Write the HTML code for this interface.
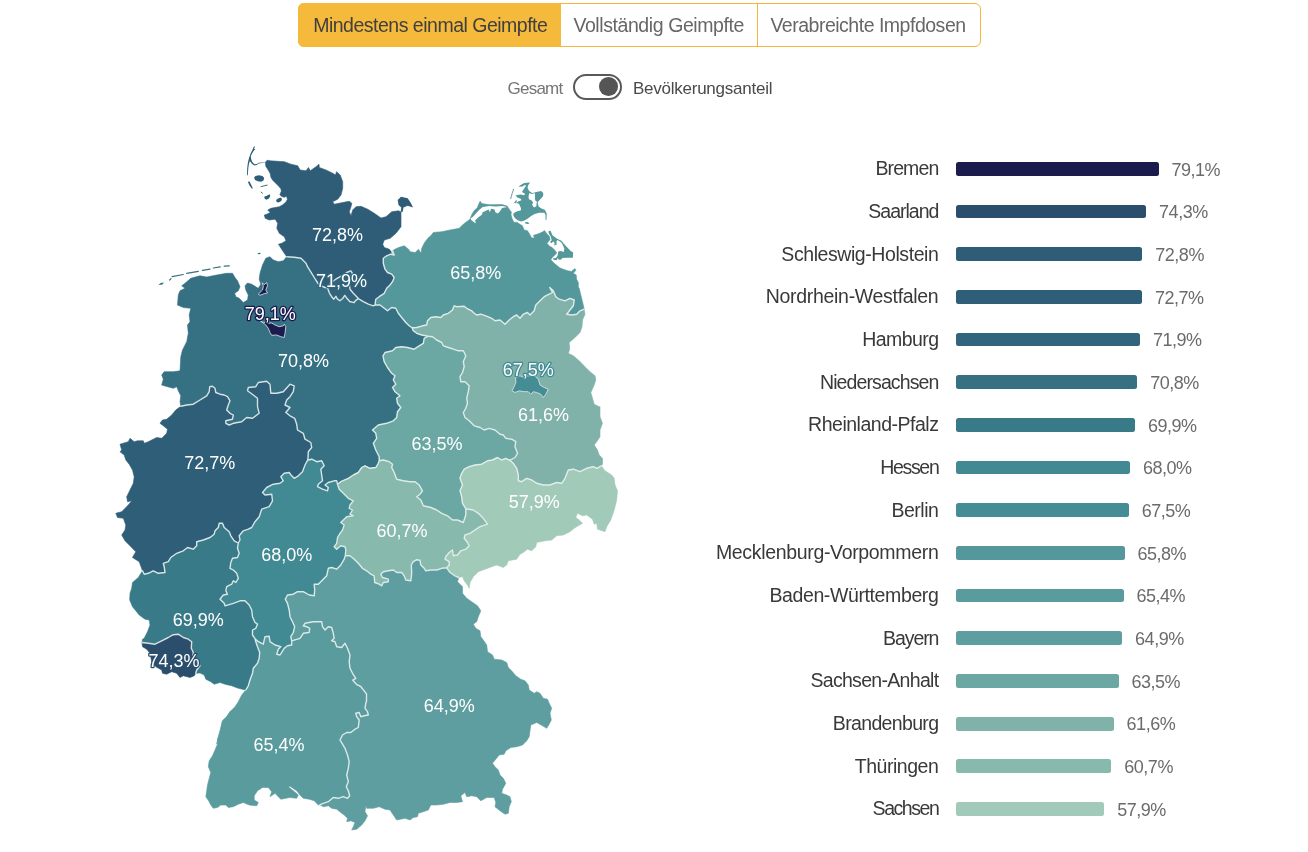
<!DOCTYPE html>
<html lang="de"><head><meta charset="utf-8"><title>Impfquoten nach Bundesland</title>
<style>
html,body{margin:0;padding:0;background:#fff}
body{width:1308px;height:852px;position:relative;overflow:hidden;font-family:"Liberation Sans",sans-serif;color:#3c3c3c}
.tabs{position:absolute;left:297.6px;top:2.7px;width:683.3px;height:44.1px;box-sizing:border-box;border:1px solid #f5b63a;border-radius:6px;background:#fff}
.tab{position:absolute;top:-1px;height:44.1px;box-sizing:border-box;font-size:19.5px;line-height:19.5px;color:#676767;white-space:nowrap}
.tab.active{background:#f5b93b;border-radius:6px 0 0 6px;color:#404040}
.tab span{position:absolute;top:13.10px}
.tog{position:absolute;left:573px;top:74.3px;width:48.6px;height:25.3px;box-sizing:border-box;border:2px solid #595959;border-radius:13px;background:#fff}
.knob{position:absolute;left:24.4px;top:1.2px;width:18.6px;height:18.6px;border-radius:50%;background:#555}
.tl{position:absolute;top:80.40px;font-size:17px;line-height:17px;white-space:nowrap}
.map{position:absolute;left:0;top:0}
.lab{position:absolute;right:369.6px;font-size:19.5px;line-height:19.5px;white-space:nowrap;color:#393939}
.bar{position:absolute;left:956px;height:13.8px;border-radius:2.5px}
.val{position:absolute;font-size:18px;line-height:18px;white-space:nowrap;color:#6b6b6b}
</style></head><body>
<div class="tabs" role="tablist">
<div class="tab active" role="tab" style="left:-1px;width:263.1px"><span style="left:15.6px;letter-spacing:-0.497px">Mindestens einmal Geimpfte</span></div>
<div class="tab" role="tab" style="left:262.1px;width:196.9px;border-right:1px solid #f5b63a"><span style="left:12.7px;letter-spacing:-0.413px">Vollständig Geimpfte</span></div>
<div class="tab" role="tab" style="left:460px;width:221.3px"><span style="left:11.8px;letter-spacing:-0.489px">Verabreichte Impfdosen</span></div>
</div>
<div class="tl" style="left:507.6px;color:#757575;letter-spacing:-0.786px">Gesamt</div>
<div class="tog"><div class="knob"></div></div>
<div class="tl" style="left:633px;color:#4a4a4a;letter-spacing:-0.247px">Bevölkerungsanteil</div>
<svg class="map" width="700" height="852" viewBox="0 0 700 852">
<g stroke-linejoin="round" stroke-linecap="round">
<path d="M286.8,256.7 L294.3,257.2 L301.0,258.3 L306.0,263.3 L307.5,266.7 L311.7,273.3 L315.8,280.0 L319.2,285.0 L325.0,287.5 L327.5,287.8 L327.5,287.8 L329.2,292.5 L330.0,294.2 L331.9,297.0 L333.8,299.2 L334.9,297.7 L335.9,296.3 L337.3,298.9 L339.9,300.8 L342.7,298.5 L344.8,295.4 L346.4,297.7 L349.7,301.5 L353.9,302.7 L355.8,300.3 L358.3,298.7 L358.3,298.7 L363.3,301.7 L368.3,304.2 L373.3,305.8 L375.0,305.0 L375.0,305.0 L380.0,305.0 L383.3,307.5 L387.5,310.8 L391.7,307.5 L395.8,308.3 L398.3,313.3 L401.7,317.5 L405.8,322.5 L409.2,325.8 L412.0,327.8 L412.0,327.8 L413.3,330.8 L416.7,333.3 L421.7,335.0 L428.3,336.2 L428.3,336.2 L424.2,338.3 L423.3,343.3 L419.2,345.8 L414.2,349.2 L407.5,347.5 L401.7,346.7 L395.8,347.5 L392.5,350.8 L385.0,352.5 L383.0,355.8 L384.2,361.7 L387.5,367.5 L391.7,373.3 L395.0,375.8 L393.3,380.0 L395.8,384.2 L392.5,387.5 L395.0,391.7 L400.0,395.8 L396.7,398.3 L397.5,403.3 L400.8,407.5 L397.5,411.7 L396.7,417.5 L393.3,420.8 L386.7,423.3 L378.3,425.0 L372.5,430.0 L375.8,433.3 L376.7,438.3 L373.3,443.3 L375.8,450.0 L379.2,456.7 L379.2,460.8 L379.2,460.8 L378.3,463.3 L375.8,467.5 L370.0,468.3 L365.0,465.8 L361.7,467.5 L358.3,472.5 L353.3,475.0 L348.3,478.3 L340.8,481.7 L337.5,484.2 L337.5,484.2 L336.7,480.8 L334.2,480.8 L328.3,482.5 L325.0,485.0 L328.3,487.5 L327.5,490.8 L322.5,489.2 L317.5,486.7 L318.3,484.2 L322.5,480.8 L321.7,475.0 L320.8,469.2 L324.2,465.8 L321.7,460.8 L316.7,461.7 L311.7,459.2 L307.5,460.3 L307.5,460.3 L308.0,458.3 L308.3,451.7 L311.7,447.5 L310.8,442.5 L305.0,439.2 L303.3,433.3 L297.5,430.0 L296.7,424.2 L294.7,418.3 L290.0,415.8 L285.8,412.5 L290.0,407.5 L285.0,405.0 L286.7,400.0 L290.0,396.7 L293.3,391.7 L294.2,385.8 L290.0,384.2 L283.3,391.7 L276.7,393.3 L270.8,393.3 L270.0,384.2 L266.7,381.3 L258.3,382.5 L255.8,386.7 L248.3,387.5 L247.5,390.8 L253.3,395.0 L257.5,398.3 L257.5,406.7 L259.2,413.3 L252.5,418.3 L246.7,417.5 L241.7,421.7 L233.3,423.3 L229.2,425.0 L225.8,423.3 L225.8,420.8 L232.5,419.2 L233.3,415.0 L230.0,413.3 L226.7,410.0 L228.3,405.0 L230.0,400.8 L227.5,396.7 L224.2,395.0 L220.0,394.2 L215.8,392.5 L215.0,388.3 L212.5,386.3 L209.7,386.7 L209.2,391.7 L206.7,395.8 L200.0,400.0 L193.3,404.2 L186.7,405.0 L180.8,406.3 L180.8,406.3 L180.0,401.7 L180.8,395.8 L178.3,390.8 L176.7,386.7 L173.3,388.3 L167.5,386.7 L161.7,385.0 L163.3,379.2 L161.7,375.0 L164.2,371.7 L173.3,371.7 L180.0,370.8 L180.8,356.7 L182.5,350.0 L186.7,341.7 L188.3,333.3 L187.5,325.0 L190.0,321.7 L189.2,315.0 L190.8,308.3 L183.3,307.5 L177.5,305.0 L178.3,295.0 L180.0,290.8 L185.0,288.3 L181.7,285.8 L185.0,283.3 L190.8,278.3 L200.0,275.8 L206.7,277.0 L216.7,275.0 L226.7,273.3 L232.5,273.3 L235.0,277.5 L237.5,280.8 L240.0,286.7 L238.3,290.8 L234.7,293.3 L235.8,296.7 L239.2,298.3 L243.3,302.5 L247.5,300.0 L248.3,295.0 L245.8,290.0 L245.0,285.8 L247.5,283.0 L251.7,284.2 L258.3,288.3 L260.8,284.2 L259.2,279.2 L260.0,273.3 L262.5,265.0 L265.8,258.3 L270.0,256.7 L273.3,260.0 L278.3,261.7 L283.3,260.8 L286.7,256.7Z" fill="#367083" stroke="#367083" stroke-width="0.6"/>
<path d="M286.8,256.7 L284.3,253.3 L281.0,248.3 L278.5,244.2 L281.8,243.3 L286.0,240.8 L284.3,236.7 L279.3,233.3 L276.8,228.3 L277.7,223.3 L275.2,219.2 L269.3,220.0 L265.2,218.3 L264.3,215.0 L266.8,214.2 L270.2,212.5 L267.7,210.0 L271.0,208.3 L274.7,207.6 L279.4,206.7 L282.7,204.8 L286.0,202.0 L287.4,199.2 L286.5,196.3 L284.1,197.3 L281.3,196.3 L279.9,194.5 L281.3,191.2 L280.9,188.8 L278.5,186.0 L275.7,183.2 L272.9,180.4 L271.0,177.6 L270.1,173.3 L268.2,170.1 L265.8,166.3 L265.4,162.3 L267.2,160.2 L270.2,160.8 L277.7,161.3 L284.3,161.7 L291.0,164.2 L297.7,165.8 L300.2,170.0 L306.0,170.8 L308.5,167.5 L310.2,170.8 L316.0,166.7 L319.0,164.2 L319.3,167.5 L326.0,170.0 L332.7,173.3 L335.5,175.0 L336.5,171.7 L340.2,175.0 L342.7,181.7 L342.7,188.3 L341.0,195.0 L337.7,199.2 L332.7,201.7 L334.3,204.2 L342.7,202.5 L349.3,201.3 L351.8,203.3 L351.0,206.7 L349.3,211.7 L351.0,215.8 L352.7,210.0 L356.0,206.7 L361.0,206.3 L367.7,209.2 L374.3,213.3 L381.0,218.0 L386.0,216.7 L391.8,211.7 L398.5,210.8 L401.0,212.0 L401.0,226.7 L396.0,233.3 L390.2,238.3 L384.3,240.0 L382.7,244.2 L384.3,247.5 L389.3,249.2 L392.2,253.0 L392.2,253.0 L392.5,250.8 L394.2,255.0 L390.8,254.2 L386.7,255.8 L383.3,258.3 L383.3,263.3 L385.0,269.2 L387.5,272.5 L391.7,274.2 L394.2,277.5 L392.5,281.7 L390.0,285.0 L386.7,288.3 L384.2,293.3 L379.2,296.7 L375.8,299.2 L375.0,305.0 L375.0,305.0 L373.3,305.8 L368.3,304.2 L363.3,301.7 L358.3,298.7 L358.3,298.7 L357.5,297.5 L353.3,293.3 L350.0,289.2 L349.2,283.3 L350.0,278.3 L352.5,273.3 L350.8,270.8 L346.7,272.5 L341.7,275.8 L335.8,279.2 L330.0,283.3 L327.5,287.8 L327.5,287.8 L325.0,287.5 L319.2,285.0 L315.8,280.0 L311.7,273.3 L307.5,266.7 L306.0,263.3 L301.0,258.3 L294.3,257.2 L286.8,256.7Z" fill="#2f5d78" stroke="#2f5d78" stroke-width="0.6"/>
<path d="M392.2,253.0 L393.5,250.0 L398.5,247.5 L404.3,245.8 L408.5,249.2 L410.2,251.7 L415.2,252.5 L418.5,249.2 L421.0,253.3 L421.7,248.3 L424.2,243.3 L427.5,238.3 L430.8,235.8 L433.3,232.5 L441.7,231.7 L450.0,230.0 L459.2,228.3 L463.3,224.2 L470.0,219.2 L471.7,214.7 L474.2,210.5 L477.2,207.9 L478.9,203.7 L480.1,201.2 L481.8,203.6 L489.4,204.7 L502.1,204.6 L507.2,206.1 L508.9,208.8 L511.4,212.2 L511.0,214.7 L512.2,218.9 L513.9,222.3 L516.9,222.3 L520.7,224.8 L522.4,225.7 L524.1,229.9 L527.5,230.8 L529.1,233.3 L531.7,237.9 L534.6,237.9 L533.4,235.4 L537.6,234.1 L541.8,232.4 L540.7,233.2 L544.5,230.6 L547.0,234.0 L549.6,236.5 L550.0,239.5 L547.0,243.3 L549.6,246.3 L552.1,247.5 L554.6,250.1 L556.8,253.0 L555.1,254.7 L552.5,257.2 L550.8,259.8 L552.5,261.5 L554.6,263.6 L557.2,265.7 L559.7,267.8 L563.9,269.5 L567.7,270.8 L571.5,271.4 L574.9,268.6 L575.9,270.3 L573.2,273.3 L576.2,275.0 L576.6,279.2 L578.3,282.6 L578.3,287.0 L579.2,288.3 L580.8,295.0 L582.5,301.7 L584.2,309.2 L584.2,309.2 L580.0,310.8 L576.7,314.2 L571.7,315.0 L566.7,314.2 L570.0,310.0 L573.3,305.8 L574.2,300.0 L570.0,298.3 L565.0,300.8 L559.2,299.2 L555.8,296.7 L553.3,290.8 L549.7,287.5 L552.5,292.5 L549.2,294.2 L544.2,296.7 L540.0,300.8 L535.8,305.0 L534.2,310.8 L530.0,315.0 L527.5,312.5 L523.3,314.2 L520.0,318.3 L516.7,315.0 L513.3,316.7 L509.2,320.0 L505.0,324.2 L500.0,320.0 L495.0,320.8 L491.7,318.3 L485.8,315.8 L480.8,314.2 L476.7,315.0 L473.3,312.5 L471.7,310.8 L466.7,308.3 L464.2,306.3 L456.7,306.7 L454.2,305.8 L452.5,310.0 L448.3,313.3 L443.3,315.0 L440.8,317.5 L435.8,316.7 L430.8,317.5 L427.5,320.8 L426.7,325.0 L422.5,325.8 L416.7,327.5 L412.0,327.8 L412.0,327.8 L409.2,325.8 L405.8,322.5 L401.7,317.5 L398.3,313.3 L395.8,308.3 L391.7,307.5 L387.5,310.8 L383.3,307.5 L380.0,305.0 L375.0,305.0 L375.0,305.0 L375.8,299.2 L379.2,296.7 L384.2,293.3 L386.7,288.3 L390.0,285.0 L392.5,281.7 L394.2,277.5 L391.7,274.2 L387.5,272.5 L385.0,269.2 L383.3,263.3 L383.3,258.3 L386.7,255.8 L390.8,254.2 L394.2,255.0 L392.5,250.8 L392.2,253.0Z" fill="#55989b" stroke="#55989b" stroke-width="0.6"/>
<path d="M412.0,327.8 L416.7,327.5 L422.5,325.8 L426.7,325.0 L427.5,320.8 L430.8,317.5 L435.8,316.7 L440.8,317.5 L443.3,315.0 L448.3,313.3 L452.5,310.0 L454.2,305.8 L456.7,306.7 L464.2,306.3 L466.7,308.3 L471.7,310.8 L473.3,312.5 L476.7,315.0 L480.8,314.2 L485.8,315.8 L491.7,318.3 L495.0,320.8 L500.0,320.0 L505.0,324.2 L509.2,320.0 L513.3,316.7 L516.7,315.0 L520.0,318.3 L523.3,314.2 L527.5,312.5 L530.0,315.0 L534.2,310.8 L535.8,305.0 L540.0,300.8 L544.2,296.7 L549.2,294.2 L552.5,292.5 L549.7,287.5 L553.3,290.8 L555.8,296.7 L559.2,299.2 L565.0,300.8 L570.0,298.3 L574.2,300.0 L573.3,305.8 L570.0,310.0 L566.7,314.2 L571.7,315.0 L576.7,314.2 L580.0,310.8 L584.2,309.2 L584.2,309.2 L585.0,314.2 L582.5,320.0 L582.0,326.7 L580.0,332.5 L575.0,337.5 L569.2,342.5 L569.7,349.2 L568.3,353.3 L573.3,355.8 L579.2,360.8 L585.0,366.7 L590.0,371.7 L595.0,375.8 L595.8,380.0 L594.2,385.0 L590.8,392.5 L592.5,398.3 L594.2,404.2 L599.2,406.7 L600.0,406.7 L600.0,416.7 L602.5,423.3 L600.0,430.0 L600.0,436.7 L596.7,441.7 L594.2,445.0 L597.5,450.0 L599.2,455.0 L602.5,458.3 L602.5,464.2 L601.3,465.8 L601.3,465.8 L596.7,468.3 L593.3,466.7 L586.7,468.3 L580.0,471.7 L573.3,469.2 L568.3,470.0 L565.0,478.3 L561.7,483.3 L556.7,482.5 L550.0,485.0 L543.3,485.0 L536.7,483.3 L531.7,480.0 L526.7,478.3 L521.7,481.7 L518.3,480.8 L518.3,475.0 L516.7,468.3 L513.3,463.3 L509.7,460.3 L509.7,460.3 L515.0,457.5 L517.5,453.3 L515.0,446.7 L515.8,441.7 L511.7,439.2 L505.8,438.3 L503.3,435.0 L500.0,434.2 L495.0,430.0 L489.2,428.3 L484.2,430.0 L480.0,427.5 L474.2,425.8 L469.2,420.8 L465.0,417.5 L463.3,412.5 L465.8,408.3 L467.5,403.3 L466.7,398.3 L468.3,391.7 L469.2,385.8 L465.0,381.7 L460.8,381.7 L460.0,376.7 L462.5,372.5 L464.2,366.7 L463.3,361.7 L465.8,355.8 L463.3,350.8 L458.3,350.8 L453.3,349.2 L448.3,347.5 L443.3,345.8 L441.7,342.5 L436.7,340.0 L432.5,336.7 L428.3,336.2 L428.3,336.2 L421.7,335.0 L416.7,333.3 L413.3,330.8 L412.0,327.8Z" fill="#80b2aa" stroke="#80b2aa" stroke-width="0.6"/>
<path d="M428.3,336.2 L432.5,336.7 L436.7,340.0 L441.7,342.5 L443.3,345.8 L448.3,347.5 L453.3,349.2 L458.3,350.8 L463.3,350.8 L465.8,355.8 L463.3,361.7 L464.2,366.7 L462.5,372.5 L460.0,376.7 L460.8,381.7 L465.0,381.7 L469.2,385.8 L468.3,391.7 L466.7,398.3 L467.5,403.3 L465.8,408.3 L463.3,412.5 L465.0,417.5 L469.2,420.8 L474.2,425.8 L480.0,427.5 L484.2,430.0 L489.2,428.3 L495.0,430.0 L500.0,434.2 L503.3,435.0 L505.8,438.3 L511.7,439.2 L515.8,441.7 L515.0,446.7 L517.5,453.3 L515.0,457.5 L509.7,460.3 L509.7,460.3 L505.8,458.3 L501.7,460.0 L497.5,457.5 L492.5,460.0 L487.5,460.8 L481.7,464.2 L475.0,465.0 L469.2,466.7 L464.2,469.2 L461.7,473.3 L460.0,478.3 L462.5,485.0 L460.0,490.8 L461.7,496.7 L462.5,503.3 L465.8,508.7 L465.8,508.7 L465.8,515.0 L463.3,522.5 L457.5,520.0 L452.5,520.0 L447.5,515.8 L441.7,513.3 L436.7,510.0 L430.8,507.5 L423.3,505.8 L420.8,500.0 L416.7,496.7 L420.0,494.2 L422.5,490.8 L419.2,485.0 L415.0,481.7 L410.0,481.7 L403.3,480.8 L396.7,479.2 L394.2,472.5 L391.7,467.5 L392.5,464.2 L389.2,461.7 L383.3,460.0 L379.2,460.8 L379.2,460.8 L379.2,456.7 L375.8,450.0 L373.3,443.3 L376.7,438.3 L375.8,433.3 L372.5,430.0 L378.3,425.0 L386.7,423.3 L393.3,420.8 L396.7,417.5 L397.5,411.7 L400.8,407.5 L397.5,403.3 L396.7,398.3 L400.0,395.8 L395.0,391.7 L392.5,387.5 L395.8,384.2 L393.3,380.0 L395.0,375.8 L391.7,373.3 L387.5,367.5 L384.2,361.7 L383.0,355.8 L385.0,352.5 L392.5,350.8 L395.8,347.5 L401.7,346.7 L407.5,347.5 L414.2,349.2 L419.2,345.8 L423.3,343.3 L424.2,338.3 L428.3,336.2Z" fill="#6ba7a3" stroke="#6ba7a3" stroke-width="0.6"/>
<path d="M509.7,460.3 L513.3,463.3 L516.7,468.3 L518.3,475.0 L518.3,480.8 L521.7,481.7 L526.7,478.3 L531.7,480.0 L536.7,483.3 L543.3,485.0 L550.0,485.0 L556.7,482.5 L561.7,483.3 L565.0,478.3 L568.3,470.0 L573.3,469.2 L580.0,471.7 L586.7,468.3 L593.3,466.7 L596.7,468.3 L601.3,465.8 L601.3,465.8 L605.0,470.8 L611.7,475.0 L614.2,478.3 L615.0,485.0 L617.5,490.8 L616.7,500.0 L614.2,510.0 L610.8,520.0 L606.7,526.7 L605.0,531.7 L597.5,529.2 L596.7,523.3 L594.2,524.2 L592.5,519.2 L586.7,515.0 L582.5,515.8 L577.5,513.3 L575.8,517.5 L579.2,520.0 L582.5,523.3 L578.3,525.8 L574.2,528.3 L570.0,531.7 L563.3,535.0 L556.7,535.8 L551.7,540.0 L545.0,540.8 L536.7,542.5 L535.8,546.7 L531.7,550.8 L527.5,549.2 L523.3,552.5 L520.0,554.2 L516.7,559.2 L508.3,560.8 L506.7,565.0 L503.3,567.5 L496.7,565.0 L491.7,566.7 L485.0,569.2 L478.3,571.7 L473.3,576.7 L470.0,582.5 L469.2,588.3 L467.5,585.0 L464.2,580.8 L462.5,576.7 L458.7,577.5 L458.7,577.5 L455.0,575.8 L450.0,572.5 L446.7,567.8 L446.7,567.8 L449.2,565.0 L449.2,561.7 L445.0,559.2 L445.8,556.7 L449.2,552.5 L452.5,550.0 L453.3,555.8 L457.5,555.0 L460.8,550.8 L465.8,549.2 L469.2,545.8 L467.5,542.5 L464.2,538.3 L465.0,535.0 L470.0,533.3 L475.0,530.0 L480.0,526.7 L487.5,524.2 L483.3,518.3 L478.3,513.3 L473.3,510.0 L465.8,508.7 L465.8,508.7 L462.5,503.3 L461.7,496.7 L460.0,490.8 L462.5,485.0 L460.0,478.3 L461.7,473.3 L464.2,469.2 L469.2,466.7 L475.0,465.0 L481.7,464.2 L487.5,460.8 L492.5,460.0 L497.5,457.5 L501.7,460.0 L505.8,458.3 L509.7,460.3Z" fill="#a2cab8" stroke="#a2cab8" stroke-width="0.6"/>
<path d="M337.5,484.2 L340.8,481.7 L348.3,478.3 L353.3,475.0 L358.3,472.5 L361.7,467.5 L365.0,465.8 L370.0,468.3 L375.8,467.5 L378.3,463.3 L379.2,460.8 L379.2,460.8 L383.3,460.0 L389.2,461.7 L392.5,464.2 L391.7,467.5 L394.2,472.5 L396.7,479.2 L403.3,480.8 L410.0,481.7 L415.0,481.7 L419.2,485.0 L422.5,490.8 L420.0,494.2 L416.7,496.7 L420.8,500.0 L423.3,505.8 L430.8,507.5 L436.7,510.0 L441.7,513.3 L447.5,515.8 L452.5,520.0 L457.5,520.0 L463.3,522.5 L465.8,515.0 L465.8,508.7 L465.8,508.7 L473.3,510.0 L478.3,513.3 L483.3,518.3 L487.5,524.2 L480.0,526.7 L475.0,530.0 L470.0,533.3 L465.0,535.0 L464.2,538.3 L467.5,542.5 L469.2,545.8 L465.8,549.2 L460.8,550.8 L457.5,555.0 L453.3,555.8 L452.5,550.0 L449.2,552.5 L445.8,556.7 L445.0,559.2 L449.2,561.7 L449.2,565.0 L446.7,567.8 L446.7,567.8 L441.7,568.3 L436.7,570.0 L430.8,570.0 L425.8,570.8 L424.2,568.3 L420.8,565.0 L420.0,560.3 L416.7,559.7 L413.3,561.7 L411.3,565.0 L411.7,573.3 L410.8,580.8 L405.8,580.0 L404.2,575.8 L401.7,572.5 L396.7,572.5 L393.3,570.0 L388.3,570.8 L383.3,571.7 L380.8,574.2 L382.5,577.5 L388.3,579.2 L388.3,581.7 L383.3,582.5 L381.7,585.8 L379.2,584.2 L374.7,582.5 L374.2,575.8 L370.8,574.2 L366.7,570.8 L362.5,568.3 L358.3,563.3 L354.2,559.2 L350.0,555.8 L345.3,555.8 L345.3,555.8 L345.8,550.0 L345.0,546.7 L340.8,545.8 L336.7,549.2 L334.2,546.7 L336.7,543.3 L337.5,537.5 L340.0,533.3 L342.5,530.0 L344.2,525.0 L340.8,522.5 L343.3,520.0 L346.7,516.7 L353.3,515.8 L350.0,514.2 L352.5,510.0 L349.2,508.3 L350.0,505.0 L353.3,500.8 L348.3,498.3 L343.3,493.3 L339.2,489.2 L337.5,484.2Z" fill="#88b9ad" stroke="#88b9ad" stroke-width="0.6"/>
<path d="M307.5,460.3 L311.7,459.2 L316.7,461.7 L321.7,460.8 L324.2,465.8 L320.8,469.2 L321.7,475.0 L322.5,480.8 L318.3,484.2 L317.5,486.7 L322.5,489.2 L327.5,490.8 L328.3,487.5 L325.0,485.0 L328.3,482.5 L334.2,480.8 L336.7,480.8 L337.5,484.2 L337.5,484.2 L339.2,489.2 L343.3,493.3 L348.3,498.3 L353.3,500.8 L350.0,505.0 L349.2,508.3 L352.5,510.0 L350.0,514.2 L353.3,515.8 L346.7,516.7 L343.3,520.0 L340.8,522.5 L344.2,525.0 L342.5,530.0 L340.0,533.3 L337.5,537.5 L336.7,543.3 L334.2,546.7 L336.7,549.2 L340.8,545.8 L345.0,546.7 L345.8,550.0 L345.3,555.8 L345.3,555.8 L344.2,559.2 L340.8,565.0 L336.7,569.2 L331.7,567.5 L328.3,568.3 L326.7,575.8 L322.5,580.0 L318.3,584.2 L314.2,584.2 L314.7,590.0 L314.2,595.8 L309.2,595.0 L303.3,591.7 L297.5,591.7 L293.3,594.2 L287.5,595.0 L285.3,599.2 L287.5,603.3 L289.2,610.0 L290.0,616.7 L292.5,621.7 L294.7,626.7 L293.3,632.5 L290.8,636.7 L291.7,640.8 L291.7,640.8 L291.7,645.0 L287.5,645.8 L284.2,648.3 L280.0,655.0 L276.7,654.2 L278.3,649.2 L280.8,646.7 L275.0,645.0 L270.0,641.7 L269.2,636.3 L265.0,636.7 L263.3,644.2 L258.3,641.7 L255.0,638.7 L255.0,638.7 L252.5,635.0 L252.5,630.0 L255.8,628.3 L257.5,624.2 L255.0,622.5 L252.5,616.7 L251.7,610.0 L249.2,605.0 L245.0,600.8 L240.0,600.8 L233.3,603.3 L225.0,605.8 L224.2,603.3 L220.0,599.2 L223.3,595.0 L227.5,594.2 L225.8,590.8 L226.7,586.7 L231.7,584.2 L233.3,580.8 L235.8,582.5 L238.3,578.3 L236.7,573.3 L233.3,570.0 L230.0,568.3 L230.8,562.5 L232.5,558.3 L237.5,557.5 L239.2,553.3 L237.5,548.3 L238.3,543.0 L238.3,543.0 L240.0,540.0 L239.2,535.8 L243.3,530.8 L248.3,529.2 L251.7,527.5 L255.0,521.7 L259.2,516.7 L261.7,509.2 L269.2,506.7 L272.5,500.8 L271.7,494.2 L265.0,495.0 L262.5,492.5 L266.7,487.5 L273.3,484.2 L280.0,483.3 L283.3,480.8 L280.8,476.7 L284.2,473.3 L289.2,472.5 L291.7,475.8 L294.2,478.3 L298.3,475.8 L302.5,471.7 L305.0,465.0 L307.5,460.3Z" fill="#418a93" stroke="#418a93" stroke-width="0.6"/>
<path d="M180.8,406.3 L186.7,405.0 L193.3,404.2 L200.0,400.0 L206.7,395.8 L209.2,391.7 L209.7,386.7 L212.5,386.3 L215.0,388.3 L215.8,392.5 L220.0,394.2 L224.2,395.0 L227.5,396.7 L230.0,400.8 L228.3,405.0 L226.7,410.0 L230.0,413.3 L233.3,415.0 L232.5,419.2 L225.8,420.8 L225.8,423.3 L229.2,425.0 L233.3,423.3 L241.7,421.7 L246.7,417.5 L252.5,418.3 L259.2,413.3 L257.5,406.7 L257.5,398.3 L253.3,395.0 L247.5,390.8 L248.3,387.5 L255.8,386.7 L258.3,382.5 L266.7,381.3 L270.0,384.2 L270.8,393.3 L276.7,393.3 L283.3,391.7 L290.0,384.2 L294.2,385.8 L293.3,391.7 L290.0,396.7 L286.7,400.0 L285.0,405.0 L290.0,407.5 L285.8,412.5 L290.0,415.8 L294.7,418.3 L296.7,424.2 L297.5,430.0 L303.3,433.3 L305.0,439.2 L310.8,442.5 L311.7,447.5 L308.3,451.7 L308.0,458.3 L307.5,460.3 L307.5,460.3 L305.0,465.0 L302.5,471.7 L298.3,475.8 L294.2,478.3 L291.7,475.8 L289.2,472.5 L284.2,473.3 L280.8,476.7 L283.3,480.8 L280.0,483.3 L273.3,484.2 L266.7,487.5 L262.5,492.5 L265.0,495.0 L271.7,494.2 L272.5,500.8 L269.2,506.7 L261.7,509.2 L259.2,516.7 L255.0,521.7 L251.7,527.5 L248.3,529.2 L243.3,530.8 L239.2,535.8 L240.0,540.0 L238.3,543.0 L238.3,543.0 L234.2,540.8 L230.8,535.8 L229.2,531.7 L224.2,527.5 L222.5,523.3 L219.2,523.3 L218.3,527.5 L215.0,530.8 L214.2,534.2 L210.0,537.5 L203.3,540.0 L196.7,541.7 L196.7,545.8 L193.3,549.2 L187.5,547.5 L183.3,550.8 L176.7,553.3 L170.8,557.5 L168.3,561.7 L163.3,563.3 L164.2,566.7 L165.0,572.5 L158.3,573.3 L153.3,570.8 L148.3,573.3 L144.2,574.2 L142.5,570.8 L142.5,570.8 L139.2,561.7 L132.5,557.5 L135.8,551.7 L130.0,545.8 L125.0,540.8 L121.7,535.0 L125.0,530.0 L125.8,525.0 L123.3,518.3 L117.5,517.5 L115.8,513.3 L121.7,511.7 L128.3,505.0 L131.7,500.8 L127.5,501.7 L126.7,496.7 L130.0,490.0 L133.3,483.3 L134.2,476.7 L132.5,470.0 L129.2,464.2 L125.8,460.0 L124.2,455.0 L120.0,451.7 L121.7,450.0 L120.0,444.2 L128.3,441.7 L130.0,438.3 L134.2,441.7 L137.5,440.8 L143.3,440.8 L144.2,443.3 L148.3,441.7 L156.7,437.5 L161.7,438.3 L166.7,433.3 L167.5,429.2 L163.3,425.8 L160.0,423.3 L162.5,420.0 L166.7,419.2 L171.7,415.0 L175.8,410.0 L180.8,406.3Z" fill="#2f5e78" stroke="#2f5e78" stroke-width="0.6"/>
<path d="M142.5,570.8 L144.2,574.2 L148.3,573.3 L153.3,570.8 L158.3,573.3 L165.0,572.5 L164.2,566.7 L163.3,563.3 L168.3,561.7 L170.8,557.5 L176.7,553.3 L183.3,550.8 L187.5,547.5 L193.3,549.2 L196.7,545.8 L196.7,541.7 L203.3,540.0 L210.0,537.5 L214.2,534.2 L215.0,530.8 L218.3,527.5 L219.2,523.3 L222.5,523.3 L224.2,527.5 L229.2,531.7 L230.8,535.8 L234.2,540.8 L238.3,543.0 L238.3,543.0 L237.5,548.3 L239.2,553.3 L237.5,557.5 L232.5,558.3 L230.8,562.5 L230.0,568.3 L233.3,570.0 L236.7,573.3 L238.3,578.3 L235.8,582.5 L233.3,580.8 L231.7,584.2 L226.7,586.7 L225.8,590.8 L227.5,594.2 L223.3,595.0 L220.0,599.2 L224.2,603.3 L225.0,605.8 L233.3,603.3 L240.0,600.8 L245.0,600.8 L249.2,605.0 L251.7,610.0 L252.5,616.7 L255.0,622.5 L257.5,624.2 L255.8,628.3 L252.5,630.0 L252.5,635.0 L255.0,638.7 L255.0,638.7 L255.8,641.7 L257.5,646.7 L259.7,652.5 L259.2,658.3 L257.5,663.3 L253.3,668.3 L252.5,673.3 L250.0,680.0 L248.3,685.8 L245.8,690.0 L245.8,690.0 L238.3,688.3 L231.7,685.8 L225.0,684.2 L220.0,682.5 L214.2,684.2 L210.8,681.7 L205.8,679.2 L204.2,675.0 L200.0,673.0 L195.8,673.3 L195.8,673.3 L196.7,670.0 L200.0,665.8 L196.7,661.7 L192.5,657.5 L193.3,652.5 L191.3,648.3 L191.7,641.7 L188.3,639.2 L183.3,637.5 L178.3,634.2 L173.3,634.7 L168.3,637.5 L161.7,640.8 L155.0,644.2 L148.3,643.3 L142.0,642.5 L142.0,642.5 L142.5,639.2 L144.2,638.3 L147.5,631.7 L150.0,625.0 L149.2,620.0 L145.0,619.2 L139.2,615.0 L135.8,610.8 L132.5,606.7 L129.7,600.0 L130.0,593.3 L131.7,588.3 L132.5,582.5 L138.3,577.5 L142.5,570.8Z" fill="#397a89" stroke="#397a89" stroke-width="0.6"/>
<path d="M142.0,642.5 L148.3,643.3 L155.0,644.2 L161.7,640.8 L168.3,637.5 L173.3,634.7 L178.3,634.2 L183.3,637.5 L188.3,639.2 L191.7,641.7 L191.3,648.3 L193.3,652.5 L192.5,657.5 L196.7,661.7 L200.0,665.8 L196.7,670.0 L195.8,673.3 L195.8,673.3 L194.2,675.8 L190.0,677.5 L183.3,675.8 L180.0,677.5 L176.7,673.3 L171.7,671.7 L166.7,674.2 L162.5,673.3 L161.7,670.0 L155.8,666.7 L151.7,661.7 L150.0,653.3 L146.7,649.2 L142.5,646.7 L142.0,642.5Z" fill="#2b4e6c" stroke="#2b4e6c" stroke-width="0.6"/>
<path d="M255.0,638.7 L258.3,641.7 L263.3,644.2 L265.0,636.7 L269.2,636.3 L270.0,641.7 L275.0,645.0 L280.8,646.7 L278.3,649.2 L276.7,654.2 L280.0,655.0 L284.2,648.3 L287.5,645.8 L291.7,645.0 L291.7,640.8 L291.7,640.8 L300.0,638.3 L303.3,633.3 L309.2,632.5 L309.7,628.3 L306.7,626.7 L303.3,625.8 L305.0,623.3 L313.3,621.7 L321.7,621.7 L322.5,626.7 L325.0,630.0 L328.3,626.7 L331.7,627.5 L333.3,633.3 L334.2,638.3 L331.7,640.8 L335.0,641.7 L336.7,646.7 L341.7,647.5 L345.0,643.3 L347.5,648.3 L350.0,655.0 L349.2,661.7 L350.0,668.3 L352.5,673.3 L355.8,678.3 L352.8,680.2 L356.5,684.4 L360.7,686.5 L366.5,693.9 L366.5,701.3 L365.8,703.3 L365.0,708.3 L367.5,711.7 L368.3,715.0 L364.2,715.8 L360.8,716.7 L359.2,712.5 L355.8,713.3 L356.7,716.7 L359.2,720.0 L358.3,727.5 L355.0,729.2 L350.8,732.5 L346.7,732.5 L342.5,735.0 L340.0,740.0 L342.5,744.2 L345.0,748.3 L347.5,755.0 L349.2,761.7 L348.3,768.3 L346.7,775.0 L348.3,781.7 L346.3,786.7 L348.3,790.8 L349.7,795.8 L347.5,798.3 L343.3,796.7 L338.3,798.3 L333.3,797.5 L328.3,801.7 L323.3,803.3 L320.0,804.7 L320.0,804.7 L318.3,805.0 L314.2,800.8 L309.2,799.2 L303.3,798.3 L300.0,795.0 L296.7,790.8 L290.0,786.3 L288.3,786.7 L293.3,790.8 L298.3,795.0 L296.7,798.3 L290.0,797.5 L285.8,798.3 L280.8,799.2 L278.3,796.7 L275.0,793.3 L270.0,796.7 L271.7,791.7 L268.3,787.5 L262.5,787.5 L257.5,790.8 L254.2,795.8 L254.2,800.0 L258.3,802.5 L256.7,805.8 L249.2,805.0 L243.3,802.5 L238.3,804.2 L233.3,806.7 L228.3,807.5 L225.8,805.0 L220.8,805.0 L217.5,807.5 L213.3,808.3 L210.8,805.0 L209.2,801.7 L205.8,796.7 L206.7,790.8 L207.5,785.0 L209.2,778.3 L210.8,772.5 L208.3,766.7 L209.2,760.8 L212.5,755.8 L215.0,750.0 L217.5,744.2 L217.5,739.2 L220.0,733.3 L220.8,727.5 L222.5,720.8 L226.7,716.7 L230.8,710.8 L216.7,744.2 L217.5,740.0 L219.2,733.3 L221.3,726.7 L222.5,720.8 L226.7,716.7 L230.0,711.7 L235.0,706.7 L238.3,701.7 L241.7,695.0 L245.8,690.0 L245.8,690.0 L248.3,685.8 L250.0,680.0 L252.5,673.3 L253.3,668.3 L257.5,663.3 L259.2,658.3 L259.7,652.5 L257.5,646.7 L255.8,641.7 L255.0,638.7Z" fill="#5a9b9e" stroke="#5a9b9e" stroke-width="0.6"/>
<path d="M291.7,640.8 L290.8,636.7 L293.3,632.5 L294.7,626.7 L292.5,621.7 L290.0,616.7 L289.2,610.0 L287.5,603.3 L285.3,599.2 L287.5,595.0 L293.3,594.2 L297.5,591.7 L303.3,591.7 L309.2,595.0 L314.2,595.8 L314.7,590.0 L314.2,584.2 L318.3,584.2 L322.5,580.0 L326.7,575.8 L328.3,568.3 L331.7,567.5 L336.7,569.2 L340.8,565.0 L344.2,559.2 L345.3,555.8 L345.3,555.8 L350.0,555.8 L354.2,559.2 L358.3,563.3 L362.5,568.3 L366.7,570.8 L370.8,574.2 L374.2,575.8 L374.7,582.5 L379.2,584.2 L381.7,585.8 L383.3,582.5 L388.3,581.7 L388.3,579.2 L382.5,577.5 L380.8,574.2 L383.3,571.7 L388.3,570.8 L393.3,570.0 L396.7,572.5 L401.7,572.5 L404.2,575.8 L405.8,580.0 L410.8,580.8 L411.7,573.3 L411.3,565.0 L413.3,561.7 L416.7,559.7 L420.0,560.3 L420.8,565.0 L424.2,568.3 L425.8,570.8 L430.8,570.0 L436.7,570.0 L441.7,568.3 L446.7,567.8 L446.7,567.8 L450.0,572.5 L455.0,575.8 L458.7,577.5 L458.7,577.5 L457.5,581.7 L462.5,586.7 L462.5,593.3 L466.7,598.3 L471.7,601.7 L477.5,605.8 L480.8,610.8 L478.3,616.7 L476.7,621.7 L473.3,624.2 L475.8,628.3 L480.0,630.8 L480.8,636.7 L483.3,640.0 L486.7,645.0 L487.5,651.7 L492.5,655.0 L494.2,659.2 L501.7,660.0 L506.7,662.5 L508.3,667.5 L512.5,671.7 L515.8,675.8 L520.8,679.2 L525.0,680.8 L528.3,685.0 L529.2,690.0 L534.2,693.3 L536.7,691.7 L540.0,693.3 L543.3,698.3 L547.5,699.2 L549.2,703.3 L551.7,708.3 L550.0,713.3 L551.3,720.0 L549.2,724.2 L546.7,728.3 L542.5,725.8 L536.7,722.5 L530.8,725.0 L530.0,730.8 L529.2,736.7 L526.7,740.8 L522.5,745.0 L516.7,746.7 L510.8,747.5 L505.8,750.8 L504.2,754.2 L499.2,755.0 L495.8,759.2 L492.5,763.3 L495.0,766.7 L498.3,770.0 L500.0,775.0 L503.3,778.3 L505.8,783.3 L502.5,789.2 L501.7,793.3 L506.7,795.0 L510.0,796.7 L511.3,801.7 L509.2,806.7 L508.3,813.3 L505.0,814.2 L500.0,810.8 L495.0,806.7 L495.8,802.5 L494.2,797.5 L486.7,797.5 L480.8,800.8 L476.7,796.7 L471.7,795.8 L466.7,796.7 L465.0,792.5 L460.8,795.8 L462.5,801.7 L456.7,802.5 L450.0,802.5 L443.3,804.2 L436.7,805.0 L430.8,805.0 L428.3,810.0 L423.3,811.7 L418.3,813.3 L417.5,816.7 L413.3,817.5 L410.0,820.0 L405.0,818.3 L396.7,820.0 L393.3,815.0 L390.0,810.0 L385.0,809.2 L379.2,806.7 L373.3,808.3 L366.7,808.3 L365.8,805.8 L365.0,811.7 L367.5,815.8 L365.0,820.8 L361.7,825.0 L356.7,829.2 L351.7,830.0 L353.3,826.7 L355.0,822.5 L350.8,820.8 L346.7,821.7 L347.5,818.3 L344.2,815.0 L340.8,812.5 L336.7,809.2 L331.7,808.3 L328.3,805.8 L323.3,806.7 L320.0,804.7 L320.0,804.7 L323.3,803.3 L328.3,801.7 L333.3,797.5 L338.3,798.3 L343.3,796.7 L347.5,798.3 L349.7,795.8 L348.3,790.8 L346.3,786.7 L348.3,781.7 L346.7,775.0 L348.3,768.3 L349.2,761.7 L347.5,755.0 L345.0,748.3 L342.5,744.2 L340.0,740.0 L342.5,735.0 L346.7,732.5 L350.8,732.5 L355.0,729.2 L358.3,727.5 L359.2,720.0 L356.7,716.7 L355.8,713.3 L359.2,712.5 L360.8,716.7 L364.2,715.8 L368.3,715.0 L367.5,711.7 L365.0,708.3 L365.8,703.3 L366.5,701.3 L366.5,693.9 L360.7,686.5 L356.5,684.4 L352.8,680.2 L355.8,678.3 L352.5,673.3 L350.0,668.3 L349.2,661.7 L350.0,655.0 L347.5,648.3 L345.0,643.3 L341.7,647.5 L336.7,646.7 L335.0,641.7 L331.7,640.8 L334.2,638.3 L333.3,633.3 L331.7,627.5 L328.3,626.7 L325.0,630.0 L322.5,626.7 L321.7,621.7 L313.3,621.7 L305.0,623.3 L303.3,625.8 L306.7,626.7 L309.7,628.3 L309.2,632.5 L303.3,633.3 L300.0,638.3 L291.7,640.8Z" fill="#5f9ea0" stroke="#5f9ea0" stroke-width="0.6"/>
<path d="M327.5,287.8 L330.0,283.3 L335.8,279.2 L341.7,275.8 L346.7,272.5 L350.8,270.8 L352.5,273.3 L350.0,278.3 L349.2,283.3 L350.0,289.2 L353.3,293.3 L357.5,297.5 L358.3,298.7 L358.3,298.7 L355.8,300.3 L353.9,302.7 L349.7,301.5 L346.4,297.7 L344.8,295.4 L342.7,298.5 L339.9,300.8 L337.3,298.9 L335.9,296.3 L334.9,297.7 L333.8,299.2 L331.9,297.0 L330.0,294.2 L329.2,292.5 L327.5,287.8Z" fill="#32657c" stroke="#32657c" stroke-width="0.6"/>
<path d="M397.7,200.0 L401.0,196.7 L407.7,198.3 L411.0,203.3 L413.0,207.5 L407.7,205.8 L403.5,207.5 L402.7,211.7 L400.7,212.0 L401.3,207.5 L398.5,205.0Z" fill="#2f5d78"/>
<path d="M255.0,146.4 L254.1,148.9 L255.5,149.4 L254.1,150.3 L252.2,153.2 L250.8,156.0 L251.3,159.7 L252.7,162.5 L254.6,164.2 L256.9,163.9 L258.8,162.8 L265.2,162.2 L265.2,162.6 L258.8,163.6 L256.7,165.0 L254.1,165.4 L251.7,163.5 L249.9,161.1 L248.9,163.9 L248.3,168.2 L247.8,175.2 L247.0,175.2 L247.2,168.2 L247.9,162.5 L249.1,157.8 L250.4,154.1 L252.6,149.4 L253.9,146.6Z" fill="#2f5d78"/>
<path d="M276.1,200.1 L277.6,198.7 L280.4,197.5 L282.0,198.7 L281.3,201.0 L278.5,202.5 L276.6,202.0Z" fill="#2f5d78"/>
<path d="M254.1,177.6 L255.5,176.0 L258.8,175.2 L262.5,175.9 L264.2,178.0 L263.5,180.6 L261.1,181.8 L257.8,181.3 L255.0,179.9Z" fill="#2f5d78"/>
<path d="M247.9,182.1 L249.4,181.3 L251.3,185.1 L252.9,188.4 L251.7,188.6 L249.4,185.3Z" fill="#2f5d78"/>
<path d="M264.2,196.8 L267.2,195.4 L269.9,194.3 L270.2,196.3 L268.6,198.7 L266.3,199.8 L264.6,198.4Z" fill="#2f5d78"/>
<path d="M513.9,213.0 L513.1,214.7 L514.8,218.1 L517.7,220.2 L521.1,221.5 L524.5,220.6 L527.9,218.5 L530.8,216.2 L534.6,214.0 L539.3,212.8 L544.4,212.8 L545.5,215.1 L545.6,220.2 L546.5,219.8 L546.7,213.4 L544.8,209.8 L541.4,208.4 L538.6,206.4 L537.6,202.2 L540.1,199.5 L543.2,196.1 L543.2,192.9 L541.1,191.1 L535.2,192.3 L532.5,193.2 L529.1,191.1 L527.5,187.7 L528.3,185.1 L530.2,182.4 L524.1,183.0 L519.9,185.6 L518.6,186.8 L522.4,186.4 L524.9,185.1 L526.2,185.6 L524.1,188.5 L522.0,191.9 L524.1,193.2 L525.3,194.0 L524.1,195.3 L520.7,194.6 L515.6,195.3 L517.3,197.4 L520.7,198.7 L521.5,200.3 L518.6,201.2 L516.0,202.9 L519.0,203.7 L521.1,208.4 L520.7,210.5 L517.3,211.3Z" fill="#55989b"/>
<path d="M548.3,231.5 L550.4,230.6 L552.5,235.3 L556.3,238.2 L561.4,240.8 L563.9,243.7 L567.3,247.5 L570.7,250.9 L573.2,252.6 L572.8,257.7 L567.3,257.7 L562.2,258.1 L561.4,259.4 L558.9,259.8 L557.6,258.1 L556.8,260.2 L553.4,259.8 L553.0,258.5 L556.3,257.7 L557.6,255.6 L558.0,253.4 L558.4,251.3 L561.4,250.9 L563.5,252.2 L564.4,248.8 L563.1,245.8 L561.8,242.9 L559.7,241.2 L557.2,239.9 L556.3,242.0 L556.8,244.6 L554.2,245.4 L554.6,242.9 L553.4,241.6 L551.3,243.3 L550.0,242.0 L551.7,240.3 L550.8,236.5 L549.1,234.0Z" fill="#55989b"/>
<path d="M513.9,202.9 L516.0,200.3 L517.3,200.8 L515.6,203.3Z" fill="#55989b"/>
<path d="M524.9,222.3 L527.5,221.9 L529.6,223.2 L527.9,224.0 L525.3,223.6Z" fill="#55989b"/>
<path d="M261.1,186.6 L267.2,185.1" fill="none" stroke="#2f5d78" stroke-width="0.9"/>
<path d="M261.1,192.1 L262.5,193.2" fill="none" stroke="#2f5d78" stroke-width="0.9"/>
<path d="M158.3,284.7 L160.8,283.0 L164.2,282.5 L162.0,284.7Z" fill="#367083"/>
<path d="M169.7,280.0 L171.0,278.7" fill="none" stroke="#367083" stroke-width="1.2"/>
<path d="M172.0,276.7 L183.3,274.5" fill="none" stroke="#367083" stroke-width="1.2"/>
<path d="M186.7,273.3 L198.3,271.3" fill="none" stroke="#367083" stroke-width="1.2"/>
<path d="M202.5,270.3 L210.0,269.2" fill="none" stroke="#367083" stroke-width="1.2"/>
<path d="M213.3,268.0 L220.3,266.8" fill="none" stroke="#367083" stroke-width="1.2"/>
<path d="M224.2,266.2 L229.3,265.8" fill="none" stroke="#367083" stroke-width="1.2"/>
<path d="M258.3,253.7 L260.0,253.3" fill="none" stroke="#367083" stroke-width="1.2"/>
<path d="M470.7,218.3 L471.3,220.2 L475.9,223.6 L475.1,220.6 L478.4,217.2 L481.8,214.7 L482.7,212.2 L488.6,209.6 L489.9,212.2 L491.1,208.8 L494.5,209.6 L495.4,212.2 L497.9,213.4 L500.0,211.3 L502.1,207.9 L507.2,206.9 L502.1,206.1 L495.4,206.5 L489.4,206.0 L482.7,207.1 L478.9,210.3 L475.5,214.0 L472.5,217.2Z" fill="#fff"/>
<path d="M529.1,193.2 L532.5,194.0 L534.9,192.9 L535.1,200.3 L536.8,201.4 L536.3,206.3 L534.0,207.5 L532.1,204.7 L533.1,202.2 L531.0,200.1 L529.1,199.5 L528.5,197.1Z" fill="#fff"/>
<path d="M513.5,189.4 L512.2,193.2 L510.7,198.7" fill="none" stroke="#55989b" stroke-width="0.9"/>
<path d="M420.0,246.7 L423.3,241.7 L427.5,237.5" fill="none" stroke="#fff" stroke-width="1.2"/>
<path d="M286.8,256.7 L294.3,257.2 L301.0,258.3 L306.0,263.3 L307.5,266.7 L311.7,273.3 L315.8,280.0 L319.2,285.0 L325.0,287.5 L327.5,287.8 M327.5,287.8 L330.0,283.3 L335.8,279.2 L341.7,275.8 L346.7,272.5 L350.8,270.8 L352.5,273.3 L350.0,278.3 L349.2,283.3 L350.0,289.2 L353.3,293.3 L357.5,297.5 L358.3,298.7 M327.5,287.8 L329.2,292.5 L330.0,294.2 L331.9,297.0 L333.8,299.2 L334.9,297.7 L335.9,296.3 L337.3,298.9 L339.9,300.8 L342.7,298.5 L344.8,295.4 L346.4,297.7 L349.7,301.5 L353.9,302.7 L355.8,300.3 L358.3,298.7 M358.3,298.7 L363.3,301.7 L368.3,304.2 L373.3,305.8 L375.0,305.0 M375.0,305.0 L375.8,299.2 L379.2,296.7 L384.2,293.3 L386.7,288.3 L390.0,285.0 L392.5,281.7 L394.2,277.5 L391.7,274.2 L387.5,272.5 L385.0,269.2 L383.3,263.3 L383.3,258.3 L386.7,255.8 L390.8,254.2 L394.2,255.0 L392.5,250.8 L392.2,253.0 M375.0,305.0 L380.0,305.0 L383.3,307.5 L387.5,310.8 L391.7,307.5 L395.8,308.3 L398.3,313.3 L401.7,317.5 L405.8,322.5 L409.2,325.8 L412.0,327.8 M412.0,327.8 L416.7,327.5 L422.5,325.8 L426.7,325.0 L427.5,320.8 L430.8,317.5 L435.8,316.7 L440.8,317.5 L443.3,315.0 L448.3,313.3 L452.5,310.0 L454.2,305.8 L456.7,306.7 L464.2,306.3 L466.7,308.3 L471.7,310.8 L473.3,312.5 L476.7,315.0 L480.8,314.2 L485.8,315.8 L491.7,318.3 L495.0,320.8 L500.0,320.0 L505.0,324.2 L509.2,320.0 L513.3,316.7 L516.7,315.0 L520.0,318.3 L523.3,314.2 L527.5,312.5 L530.0,315.0 L534.2,310.8 L535.8,305.0 L540.0,300.8 L544.2,296.7 L549.2,294.2 L552.5,292.5 L549.7,287.5 L553.3,290.8 L555.8,296.7 L559.2,299.2 L565.0,300.8 L570.0,298.3 L574.2,300.0 L573.3,305.8 L570.0,310.0 L566.7,314.2 L571.7,315.0 L576.7,314.2 L580.0,310.8 L584.2,309.2 M412.0,327.8 L413.3,330.8 L416.7,333.3 L421.7,335.0 L428.3,336.2 M428.3,336.2 L424.2,338.3 L423.3,343.3 L419.2,345.8 L414.2,349.2 L407.5,347.5 L401.7,346.7 L395.8,347.5 L392.5,350.8 L385.0,352.5 L383.0,355.8 L384.2,361.7 L387.5,367.5 L391.7,373.3 L395.0,375.8 L393.3,380.0 L395.8,384.2 L392.5,387.5 L395.0,391.7 L400.0,395.8 L396.7,398.3 L397.5,403.3 L400.8,407.5 L397.5,411.7 L396.7,417.5 L393.3,420.8 L386.7,423.3 L378.3,425.0 L372.5,430.0 L375.8,433.3 L376.7,438.3 L373.3,443.3 L375.8,450.0 L379.2,456.7 L379.2,460.8 M428.3,336.2 L432.5,336.7 L436.7,340.0 L441.7,342.5 L443.3,345.8 L448.3,347.5 L453.3,349.2 L458.3,350.8 L463.3,350.8 L465.8,355.8 L463.3,361.7 L464.2,366.7 L462.5,372.5 L460.0,376.7 L460.8,381.7 L465.0,381.7 L469.2,385.8 L468.3,391.7 L466.7,398.3 L467.5,403.3 L465.8,408.3 L463.3,412.5 L465.0,417.5 L469.2,420.8 L474.2,425.8 L480.0,427.5 L484.2,430.0 L489.2,428.3 L495.0,430.0 L500.0,434.2 L503.3,435.0 L505.8,438.3 L511.7,439.2 L515.8,441.7 L515.0,446.7 L517.5,453.3 L515.0,457.5 L509.7,460.3 M509.7,460.3 L513.3,463.3 L516.7,468.3 L518.3,475.0 L518.3,480.8 L521.7,481.7 L526.7,478.3 L531.7,480.0 L536.7,483.3 L543.3,485.0 L550.0,485.0 L556.7,482.5 L561.7,483.3 L565.0,478.3 L568.3,470.0 L573.3,469.2 L580.0,471.7 L586.7,468.3 L593.3,466.7 L596.7,468.3 L601.3,465.8 M509.7,460.3 L505.8,458.3 L501.7,460.0 L497.5,457.5 L492.5,460.0 L487.5,460.8 L481.7,464.2 L475.0,465.0 L469.2,466.7 L464.2,469.2 L461.7,473.3 L460.0,478.3 L462.5,485.0 L460.0,490.8 L461.7,496.7 L462.5,503.3 L465.8,508.7 M379.2,460.8 L383.3,460.0 L389.2,461.7 L392.5,464.2 L391.7,467.5 L394.2,472.5 L396.7,479.2 L403.3,480.8 L410.0,481.7 L415.0,481.7 L419.2,485.0 L422.5,490.8 L420.0,494.2 L416.7,496.7 L420.8,500.0 L423.3,505.8 L430.8,507.5 L436.7,510.0 L441.7,513.3 L447.5,515.8 L452.5,520.0 L457.5,520.0 L463.3,522.5 L465.8,515.0 L465.8,508.7 M337.5,484.2 L340.8,481.7 L348.3,478.3 L353.3,475.0 L358.3,472.5 L361.7,467.5 L365.0,465.8 L370.0,468.3 L375.8,467.5 L378.3,463.3 L379.2,460.8 M307.5,460.3 L311.7,459.2 L316.7,461.7 L321.7,460.8 L324.2,465.8 L320.8,469.2 L321.7,475.0 L322.5,480.8 L318.3,484.2 L317.5,486.7 L322.5,489.2 L327.5,490.8 L328.3,487.5 L325.0,485.0 L328.3,482.5 L334.2,480.8 L336.7,480.8 L337.5,484.2 M180.8,406.3 L186.7,405.0 L193.3,404.2 L200.0,400.0 L206.7,395.8 L209.2,391.7 L209.7,386.7 L212.5,386.3 L215.0,388.3 L215.8,392.5 L220.0,394.2 L224.2,395.0 L227.5,396.7 L230.0,400.8 L228.3,405.0 L226.7,410.0 L230.0,413.3 L233.3,415.0 L232.5,419.2 L225.8,420.8 L225.8,423.3 L229.2,425.0 L233.3,423.3 L241.7,421.7 L246.7,417.5 L252.5,418.3 L259.2,413.3 L257.5,406.7 L257.5,398.3 L253.3,395.0 L247.5,390.8 L248.3,387.5 L255.8,386.7 L258.3,382.5 L266.7,381.3 L270.0,384.2 L270.8,393.3 L276.7,393.3 L283.3,391.7 L290.0,384.2 L294.2,385.8 L293.3,391.7 L290.0,396.7 L286.7,400.0 L285.0,405.0 L290.0,407.5 L285.8,412.5 L290.0,415.8 L294.7,418.3 L296.7,424.2 L297.5,430.0 L303.3,433.3 L305.0,439.2 L310.8,442.5 L311.7,447.5 L308.3,451.7 L308.0,458.3 L307.5,460.3 M142.5,570.8 L144.2,574.2 L148.3,573.3 L153.3,570.8 L158.3,573.3 L165.0,572.5 L164.2,566.7 L163.3,563.3 L168.3,561.7 L170.8,557.5 L176.7,553.3 L183.3,550.8 L187.5,547.5 L193.3,549.2 L196.7,545.8 L196.7,541.7 L203.3,540.0 L210.0,537.5 L214.2,534.2 L215.0,530.8 L218.3,527.5 L219.2,523.3 L222.5,523.3 L224.2,527.5 L229.2,531.7 L230.8,535.8 L234.2,540.8 L238.3,543.0 M307.5,460.3 L305.0,465.0 L302.5,471.7 L298.3,475.8 L294.2,478.3 L291.7,475.8 L289.2,472.5 L284.2,473.3 L280.8,476.7 L283.3,480.8 L280.0,483.3 L273.3,484.2 L266.7,487.5 L262.5,492.5 L265.0,495.0 L271.7,494.2 L272.5,500.8 L269.2,506.7 L261.7,509.2 L259.2,516.7 L255.0,521.7 L251.7,527.5 L248.3,529.2 L243.3,530.8 L239.2,535.8 L240.0,540.0 L238.3,543.0 M238.3,543.0 L237.5,548.3 L239.2,553.3 L237.5,557.5 L232.5,558.3 L230.8,562.5 L230.0,568.3 L233.3,570.0 L236.7,573.3 L238.3,578.3 L235.8,582.5 L233.3,580.8 L231.7,584.2 L226.7,586.7 L225.8,590.8 L227.5,594.2 L223.3,595.0 L220.0,599.2 L224.2,603.3 L225.0,605.8 L233.3,603.3 L240.0,600.8 L245.0,600.8 L249.2,605.0 L251.7,610.0 L252.5,616.7 L255.0,622.5 L257.5,624.2 L255.8,628.3 L252.5,630.0 L252.5,635.0 L255.0,638.7 M255.0,638.7 L258.3,641.7 L263.3,644.2 L265.0,636.7 L269.2,636.3 L270.0,641.7 L275.0,645.0 L280.8,646.7 L278.3,649.2 L276.7,654.2 L280.0,655.0 L284.2,648.3 L287.5,645.8 L291.7,645.0 L291.7,640.8 M291.7,640.8 L290.8,636.7 L293.3,632.5 L294.7,626.7 L292.5,621.7 L290.0,616.7 L289.2,610.0 L287.5,603.3 L285.3,599.2 L287.5,595.0 L293.3,594.2 L297.5,591.7 L303.3,591.7 L309.2,595.0 L314.2,595.8 L314.7,590.0 L314.2,584.2 L318.3,584.2 L322.5,580.0 L326.7,575.8 L328.3,568.3 L331.7,567.5 L336.7,569.2 L340.8,565.0 L344.2,559.2 L345.3,555.8 M337.5,484.2 L339.2,489.2 L343.3,493.3 L348.3,498.3 L353.3,500.8 L350.0,505.0 L349.2,508.3 L352.5,510.0 L350.0,514.2 L353.3,515.8 L346.7,516.7 L343.3,520.0 L340.8,522.5 L344.2,525.0 L342.5,530.0 L340.0,533.3 L337.5,537.5 L336.7,543.3 L334.2,546.7 L336.7,549.2 L340.8,545.8 L345.0,546.7 L345.8,550.0 L345.3,555.8 M345.3,555.8 L350.0,555.8 L354.2,559.2 L358.3,563.3 L362.5,568.3 L366.7,570.8 L370.8,574.2 L374.2,575.8 L374.7,582.5 L379.2,584.2 L381.7,585.8 L383.3,582.5 L388.3,581.7 L388.3,579.2 L382.5,577.5 L380.8,574.2 L383.3,571.7 L388.3,570.8 L393.3,570.0 L396.7,572.5 L401.7,572.5 L404.2,575.8 L405.8,580.0 L410.8,580.8 L411.7,573.3 L411.3,565.0 L413.3,561.7 L416.7,559.7 L420.0,560.3 L420.8,565.0 L424.2,568.3 L425.8,570.8 L430.8,570.0 L436.7,570.0 L441.7,568.3 L446.7,567.8 M465.8,508.7 L473.3,510.0 L478.3,513.3 L483.3,518.3 L487.5,524.2 L480.0,526.7 L475.0,530.0 L470.0,533.3 L465.0,535.0 L464.2,538.3 L467.5,542.5 L469.2,545.8 L465.8,549.2 L460.8,550.8 L457.5,555.0 L453.3,555.8 L452.5,550.0 L449.2,552.5 L445.8,556.7 L445.0,559.2 L449.2,561.7 L449.2,565.0 L446.7,567.8 M446.7,567.8 L450.0,572.5 L455.0,575.8 L458.7,577.5 M291.7,640.8 L300.0,638.3 L303.3,633.3 L309.2,632.5 L309.7,628.3 L306.7,626.7 L303.3,625.8 L305.0,623.3 L313.3,621.7 L321.7,621.7 L322.5,626.7 L325.0,630.0 L328.3,626.7 L331.7,627.5 L333.3,633.3 L334.2,638.3 L331.7,640.8 L335.0,641.7 L336.7,646.7 L341.7,647.5 L345.0,643.3 L347.5,648.3 L350.0,655.0 L349.2,661.7 L350.0,668.3 L352.5,673.3 L355.8,678.3 L352.8,680.2 L356.5,684.4 L360.7,686.5 L366.5,693.9 L366.5,701.3 L365.8,703.3 L365.0,708.3 L367.5,711.7 L368.3,715.0 L364.2,715.8 L360.8,716.7 L359.2,712.5 L355.8,713.3 L356.7,716.7 L359.2,720.0 L358.3,727.5 L355.0,729.2 L350.8,732.5 L346.7,732.5 L342.5,735.0 L340.0,740.0 L342.5,744.2 L345.0,748.3 L347.5,755.0 L349.2,761.7 L348.3,768.3 L346.7,775.0 L348.3,781.7 L346.3,786.7 L348.3,790.8 L349.7,795.8 L347.5,798.3 L343.3,796.7 L338.3,798.3 L333.3,797.5 L328.3,801.7 L323.3,803.3 L320.0,804.7 M245.8,690.0 L248.3,685.8 L250.0,680.0 L252.5,673.3 L253.3,668.3 L257.5,663.3 L259.2,658.3 L259.7,652.5 L257.5,646.7 L255.8,641.7 L255.0,638.7 M142.0,642.5 L148.3,643.3 L155.0,644.2 L161.7,640.8 L168.3,637.5 L173.3,634.7 L178.3,634.2 L183.3,637.5 L188.3,639.2 L191.7,641.7 L191.3,648.3 L193.3,652.5 L192.5,657.5 L196.7,661.7 L200.0,665.8 L196.7,670.0 L195.8,673.3" fill="none" stroke="#e8f1f0" stroke-opacity="0.9" stroke-width="1.4"/>
<path d="M515.8,377.5 L520.0,375.8 L524.2,377.5 L528.3,375.8 L535.0,376.3 L538.3,379.2 L540.0,385.0 L544.2,387.5 L548.3,389.2 L545.8,394.2 L543.3,397.5 L540.8,394.2 L536.7,392.5 L533.3,391.7 L530.8,394.2 L528.3,391.7 L524.2,391.7 L519.2,390.8 L515.0,392.5 L512.0,390.8 L514.2,386.7 L515.8,382.5Z" fill="#448d95" stroke="#dfe9ea" stroke-opacity="0.8" stroke-width="1"/>
<path d="M261.0,321.3 L263.3,322.3 L265.8,322.5 L268.3,323.3 L271.7,323.0 L275.0,325.0 L279.2,326.7 L283.3,325.8 L284.2,324.2 L285.8,326.7 L285.0,333.3 L284.2,337.5 L280.8,336.7 L276.7,335.0 L271.7,335.3 L270.0,332.5 L268.3,328.3 L265.8,325.0Z" fill="#1c1b4d" stroke="#dfe9ea" stroke-opacity="0.8" stroke-width="1"/>
<path d="M262.5,283.0 L264.2,284.7 L266.7,282.5 L267.5,285.8 L265.8,290.0 L267.5,293.0 L264.2,293.7 L260.0,295.3 L258.3,294.2 L262.5,290.0 L263.3,286.7Z" fill="#1c1b4d" stroke="#dfe9ea" stroke-opacity="0.8" stroke-width="1"/>
</g>
<g font-family="Liberation Sans, sans-serif" font-size="18" fill="#fff" text-anchor="middle" letter-spacing="0">
<text x="337.4" y="241.0" stroke="#2f5d78" stroke-width="2.6" stroke-linejoin="round" paint-order="stroke">72,8%</text>
<text x="341.5" y="287.0" stroke="#32657c" stroke-width="2.6" stroke-linejoin="round" paint-order="stroke">71,9%</text>
<text x="270.2" y="320.2" stroke="#1c1b4d" stroke-width="2.6" stroke-linejoin="round" paint-order="stroke">79,1%</text>
<text x="303.6" y="367.0" stroke="#367083" stroke-width="2.6" stroke-linejoin="round" paint-order="stroke">70,8%</text>
<text x="475.8" y="279" stroke="#55989b" stroke-width="2.6" stroke-linejoin="round" paint-order="stroke">65,8%</text>
<text x="528.3" y="375.8" stroke="#448d95" stroke-width="2.6" stroke-linejoin="round" paint-order="stroke">67,5%</text>
<text x="543.6" y="420.9" stroke="#80b2aa" stroke-width="2.6" stroke-linejoin="round" paint-order="stroke">61,6%</text>
<text x="437" y="450.0" stroke="#6ba7a3" stroke-width="2.6" stroke-linejoin="round" paint-order="stroke">63,5%</text>
<text x="209.75" y="469.0" stroke="#2f5e78" stroke-width="2.6" stroke-linejoin="round" paint-order="stroke">72,7%</text>
<text x="534.2" y="508" stroke="#a2cab8" stroke-width="2.6" stroke-linejoin="round" paint-order="stroke">57,9%</text>
<text x="402" y="537" stroke="#88b9ad" stroke-width="2.6" stroke-linejoin="round" paint-order="stroke">60,7%</text>
<text x="286.7" y="561" stroke="#418a93" stroke-width="2.6" stroke-linejoin="round" paint-order="stroke">68,0%</text>
<text x="198.3" y="626" stroke="#397a89" stroke-width="2.6" stroke-linejoin="round" paint-order="stroke">69,9%</text>
<text x="174" y="667" stroke="#2b4e6c" stroke-width="2.6" stroke-linejoin="round" paint-order="stroke">74,3%</text>
<text x="449.2" y="712" stroke="#5f9ea0" stroke-width="2.6" stroke-linejoin="round" paint-order="stroke">64,9%</text>
<text x="279" y="751" stroke="#5a9b9e" stroke-width="2.6" stroke-linejoin="round" paint-order="stroke">65,4%</text>
</g>
</svg>
<div class="lab" style="top:159.00px;letter-spacing:-0.88px">Bremen</div><div class="bar" style="top:161.95px;width:202.5px;background:#1c1b4d"></div><div class="val" style="top:161.00px;left:1171.4px;letter-spacing:-0.488px">79,1%</div>
<div class="lab" style="top:202.00px;letter-spacing:-0.995px">Saarland</div><div class="bar" style="top:204.62px;width:190.2px;background:#2b4e6c"></div><div class="val" style="top:203.00px;left:1159.1px;letter-spacing:-0.488px">74,3%</div>
<div class="lab" style="top:245.00px;letter-spacing:-0.424px">Schleswig-Holstein</div><div class="bar" style="top:247.30px;width:186.4px;background:#2f5d78"></div><div class="val" style="top:246.00px;left:1155.3px;letter-spacing:-0.488px">72,8%</div>
<div class="lab" style="top:287.00px;letter-spacing:-0.309px">Nordrhein-Westfalen</div><div class="bar" style="top:289.97px;width:186.1px;background:#2f5e78"></div><div class="val" style="top:289.00px;left:1155.0px;letter-spacing:-0.488px">72,7%</div>
<div class="lab" style="top:330.00px;letter-spacing:-0.586px">Hamburg</div><div class="bar" style="top:332.65px;width:184.1px;background:#32657c"></div><div class="val" style="top:331.00px;left:1153.0px;letter-spacing:-0.488px">71,9%</div>
<div class="lab" style="top:373.00px;letter-spacing:-0.898px">Niedersachsen</div><div class="bar" style="top:375.32px;width:181.3px;background:#367083"></div><div class="val" style="top:374.00px;left:1150.2px;letter-spacing:-0.488px">70,8%</div>
<div class="lab" style="top:415.00px;letter-spacing:-0.491px">Rheinland-Pfalz</div><div class="bar" style="top:418.00px;width:179.0px;background:#397a89"></div><div class="val" style="top:417.00px;left:1147.9px;letter-spacing:-0.488px">69,9%</div>
<div class="lab" style="top:458.00px;letter-spacing:-1.32px">Hessen</div><div class="bar" style="top:460.67px;width:174.1px;background:#418a93"></div><div class="val" style="top:459.00px;left:1143.0px;letter-spacing:-0.488px">68,0%</div>
<div class="lab" style="top:501.00px;letter-spacing:-0.476px">Berlin</div><div class="bar" style="top:503.35px;width:172.8px;background:#448d95"></div><div class="val" style="top:502.00px;left:1141.7px;letter-spacing:-0.488px">67,5%</div>
<div class="lab" style="top:543.00px;letter-spacing:-0.33px">Mecklenburg-Vorpommern</div><div class="bar" style="top:546.02px;width:168.5px;background:#55989b"></div><div class="val" style="top:545.00px;left:1137.4px;letter-spacing:-0.488px">65,8%</div>
<div class="lab" style="top:586.00px;letter-spacing:-0.387px">Baden-Württemberg</div><div class="bar" style="top:588.70px;width:167.5px;background:#5a9b9e"></div><div class="val" style="top:587.00px;left:1136.4px;letter-spacing:-0.488px">65,4%</div>
<div class="lab" style="top:629.00px;letter-spacing:-1.064px">Bayern</div><div class="bar" style="top:631.38px;width:166.2px;background:#5f9ea0"></div><div class="val" style="top:630.00px;left:1135.1px;letter-spacing:-0.488px">64,9%</div>
<div class="lab" style="top:671.00px;letter-spacing:-0.691px">Sachsen-Anhalt</div><div class="bar" style="top:674.05px;width:162.6px;background:#6ba7a3"></div><div class="val" style="top:673.00px;left:1131.5px;letter-spacing:-0.488px">63,5%</div>
<div class="lab" style="top:714.00px;letter-spacing:-0.651px">Brandenburg</div><div class="bar" style="top:716.72px;width:157.7px;background:#80b2aa"></div><div class="val" style="top:715.00px;left:1126.6px;letter-spacing:-0.488px">61,6%</div>
<div class="lab" style="top:757.00px;letter-spacing:-0.457px">Thüringen</div><div class="bar" style="top:759.40px;width:155.4px;background:#88b9ad"></div><div class="val" style="top:758.00px;left:1124.3px;letter-spacing:-0.488px">60,7%</div>
<div class="lab" style="top:799.00px;letter-spacing:-1.441px">Sachsen</div><div class="bar" style="top:802.08px;width:148.3px;background:#a2cab8"></div><div class="val" style="top:801.00px;left:1117.2px;letter-spacing:-0.488px">57,9%</div>
</body></html>
